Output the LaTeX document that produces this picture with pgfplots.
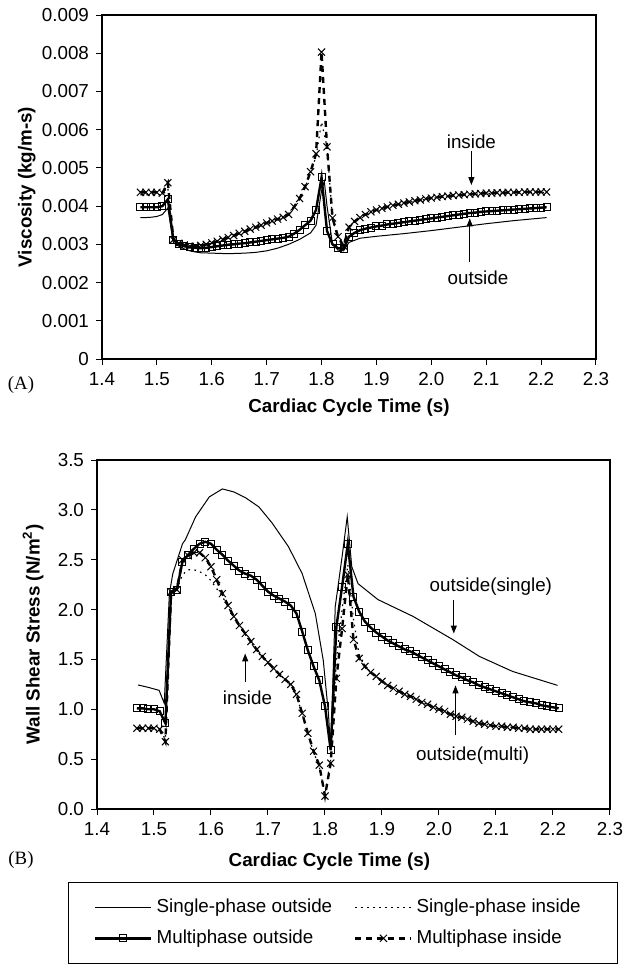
\documentclass[border=0pt]{standalone}
\usepackage{pgfplots}
\pgfplotsset{compat=1.18}
\usepackage{pgfplotstable}
\usepackage{fontspec}
\setmainfont{Liberation Sans}
\newfontfamily\serifpanel{Liberation Serif}
\usetikzlibrary{arrows.meta}

% multiphase outside, multiphase inside, single-phase inside (viscosity)
\pgfplotstableread{
x     mo      mi      si
1.47  .00397  .00436  .00430
1.48  .00397  .00436  .00430
1.49  .00397  .00436  .00430
1.50  .00397  .00436  .00430
1.51  .00400  .00434  .00430
1.52  .00418  .00461  .00445
1.53  .00312  .00312  .00310
1.54  .00300  .00303  .00300
1.55  .00295  .00298  .00295
1.56  .00292  .00295  .00293
1.57  .00291  .00295  .00293
1.58  .00290  .00297  .00295
1.59  .00291  .00300  .00298
1.60  .00293  .00304  .00302
1.61  .00295  .00308  .00306
1.62  .00297  .00313  .00311
1.63  .00299  .00318  .00316
1.64  .00300  .00323  .00321
1.65  .00302  .00329  .00327
1.66  .00303  .00334  .00332
1.67  .00305  .00340  .00338
1.68  .00307  .00345  .00343
1.69  .00309  .00350  .00348
1.70  .00311  .00356  .00354
1.71  .00313  .00361  .00359
1.72  .00315  .00366  .00364
1.73  .00317  .00371  .00369
1.74  .00320  .00378  .00376
1.75  .00328  .00398  .00395
1.76  .00338  .00420  .00418
1.77  .00350  .00451  .00448
1.78  .00362  .00490  .00488
1.79  .00390  .00537  .00530
1.80  .00475  .00803  .00620
1.81  .00335  .00555  .00555
1.82  .00300  .00369  .00365
1.83  .00290  .00320  .00318
1.84  .00288  .00296  .00300
1.85  .00320  .00345  .00343
1.86  .00330  .00360  .00358
1.87  .00337  .00370  .00368
1.88  .00341  .00378  .00377
1.89  .00344  .00385  .00384
1.90  .00347  .00390  .00389
1.91  .00349  .00394  .00393
1.92  .00352  .00398  .00397
1.93  .00354  .00402  .00401
1.94  .00356  .00405  .00404
1.95  .00358  .00408  .00407
1.96  .00360  .00411  .00410
1.97  .00362  .00414  .00413
1.98  .00364  .00416  .00415
1.99  .00366  .00419  .00418
2.00  .00368  .00421  .00420
2.01  .00370  .00423  .00422
2.02  .00372  .00425  .00424
2.03  .00374  .00426  .00425
2.04  .00376  .00428  .00427
2.05  .00378  .00429  .00428
2.06  .00380  .00430  .00429
2.07  .00382  .00431  .00430
2.08  .00383  .00432  .00431
2.09  .00385  .00433  .00432
2.10  .00386  .00434  .00433
2.11  .00387  .00434  .00433
2.12  .00388  .00435  .00434
2.13  .00389  .00435  .00434
2.14  .00390  .00436  .00435
2.15  .00391  .00436  .00435
2.16  .00392  .00436  .00435
2.17  .00393  .00437  .00436
2.18  .00394  .00437  .00436
2.19  .00395  .00437  .00436
2.20  .00396  .00437  .00436
2.21  .00397  .00437  .00436
}\viscmain

% single-phase outside (viscosity)
\pgfplotstableread{
x      y
1.47   .00370
1.48   .00370
1.49   .00371
1.50   .00373
1.51   .00378
1.52   .00395
1.53   .00305
1.54   .00295
1.55   .00288
1.56   .00283
1.57   .00280
1.58   .00278
1.60   .00277
1.62   .00276
1.64   .00276
1.66   .00277
1.68   .00279
1.70   .00283
1.72   .00290
1.74   .00300
1.76   .00313
1.78   .00330
1.79   .00350
1.80   .00440
1.805  .00465
1.81   .00400
1.82   .00300
1.83   .00285
1.84   .00283
1.85   .00305
1.87   .00316
1.90   .00321
1.95   .00328
2.00   .00336
2.05   .00345
2.10   .00354
2.15   .00362
2.21   .00370
}\viscso

% multiphase outside, multiphase inside, single-phase inside (wall shear stress)
\pgfplotstableread{
x     mo    mi     si
1.47  1.01  0.81   0.80
1.48  1.01  0.81   0.80
1.49  1.00  0.81   0.80
1.50  1.00  0.81   0.80
1.51  0.98  0.80   0.79
1.52  0.86  0.675  0.70
1.53  2.18  2.18   2.16
1.54  2.20  2.20   2.20
1.55  2.48  2.50   2.35
1.56  2.55  2.54   2.40
1.57  2.61  2.57   2.40
1.58  2.66  2.57   2.38
1.59  2.68  2.52   2.35
1.60  2.66  2.43   2.29
1.61  2.60  2.30   2.21
1.62  2.55  2.16   2.13
1.63  2.49  2.04   2.03
1.64  2.44  1.93   1.92
1.65  2.39  1.84   1.83
1.66  2.36  1.76   1.75
1.67  2.34  1.68   1.67
1.68  2.30  1.60   1.59
1.69  2.24  1.53   1.52
1.70  2.18  1.47   1.46
1.71  2.14  1.41   1.40
1.72  2.11  1.35   1.34
1.73  2.08  1.30   1.29
1.74  2.04  1.25   1.24
1.75  1.96  1.15   1.14
1.76  1.78  0.96   0.95
1.77  1.59  0.76   0.75
1.78  1.43  0.58   0.57
1.79  1.29  0.44   0.42
1.80  1.03  0.13   0.15
1.81  0.59  0.46   0.50
1.82  1.83  1.31   1.50
1.83  2.23  1.81   2.00
1.84  2.66  2.35   2.45
1.85  2.13  1.70   1.90
1.86  1.98  1.51   1.55
1.87  1.88  1.43   1.44
1.88  1.82  1.37   1.37
1.89  1.77  1.33   1.33
1.90  1.73  1.28   1.28
1.91  1.69  1.24   1.24
1.92  1.66  1.21   1.21
1.93  1.63  1.18   1.18
1.94  1.60  1.15   1.15
1.95  1.58  1.13   1.13
1.96  1.55  1.10   1.10
1.97  1.52  1.07   1.07
1.98  1.49  1.05   1.05
1.99  1.46  1.02   1.02
2.00  1.43  1.00   1.00
2.01  1.40  0.98   0.98
2.02  1.37  0.95   0.95
2.03  1.34  0.93   0.93
2.04  1.32  0.92   0.92
2.05  1.29  0.90   0.90
2.06  1.27  0.88   0.88
2.07  1.24  0.86   0.86
2.08  1.22  0.85   0.85
2.09  1.20  0.84   0.84
2.10  1.18  0.83   0.83
2.11  1.16  0.83   0.83
2.12  1.14  0.82   0.82
2.13  1.12  0.82   0.82
2.14  1.10  0.81   0.81
2.15  1.08  0.81   0.81
2.16  1.07  0.80   0.80
2.17  1.06  0.80   0.80
2.18  1.04  0.80   0.80
2.19  1.03  0.80   0.80
2.20  1.02  0.80   0.80
2.21  1.01  0.80   0.80
}\wssmain

% single-phase outside (wall shear stress)
\pgfplotstableread{
x      y
1.472  1.244
1.490  1.22
1.509  1.19
1.518  1.06
1.527  2.16
1.533  2.36
1.550  2.66
1.555  2.70
1.573  2.93
1.597  3.13
1.620  3.21
1.640  3.18
1.661  3.12
1.684  3.03
1.707  2.87
1.736  2.63
1.760  2.36
1.783  1.96
1.797  1.49
1.806  0.96
1.810  0.59
1.818  2.03
1.830  2.53
1.839  2.93
1.847  2.43
1.858  2.26
1.893  2.10
1.955  1.93
2.024  1.70
2.071  1.53
2.129  1.38
2.208  1.24
}\wssso

\tikzset{
  sglout/.style={black, line width=0.5pt},
  sglin/.style={black, line width=0.6pt, dash pattern=on 0.8pt off 2.2pt},
  mltout/.style={black, line width=1.2pt, mark=square, mark size=1.75pt, mark options={solid, line width=0.5pt}},
  mltin/.style={black, line width=1.2pt, dash pattern=on 3pt off 2.5pt, mark=x, mark size=2.5pt, mark options={solid, line width=0.5pt}},
  note/.style={font=\fontsize{9.4}{11}\selectfont},
  arr/.style={-{Triangle[length=4pt, width=3pt]}, line width=0.5pt},
}
\pgfplotsset{
  panel/.style={
    scale only axis,
    xmin=1.4, xmax=2.3,
    xtick={1.4,1.5,1.6,1.7,1.8,1.9,2.0,2.1,2.2,2.3},
    axis line style={line width=0.6pt},
    tick style={black, line width=0.5pt},
    tick align=outside, major tick length=3pt,
    xtick pos=bottom, ytick pos=left,
    /pgf/number format/assume math mode=true,
    tick label style={font=\fontsize{9.4}{11}\selectfont},
    label style={font=\fontsize{9.4}{11}\selectfont\bfseries},
    xticklabel style={/pgf/number format/fixed, /pgf/number format/fixed zerofill, /pgf/number format/precision=1},
    legend image code/.code={\draw[mark repeat=2, mark phase=2, ##1] plot coordinates {(0pt,0pt) (14pt,0pt) (28pt,0pt)};},
  },
}

\begin{document}
\begin{tikzpicture}
\path[use as bounding box] (0pt,0pt) rectangle (311pt,-482pt);

% (A) viscosity
\begin{axis}[panel,
  at={(51pt,-179.5pt)}, anchor=south west,
  width=247pt, height=172pt,
  ymin=0, ymax=0.009,
  ytick={0,0.001,0.002,0.003,0.004,0.005,0.006,0.007,0.008,0.009},
  scaled y ticks=false,
  yticklabel style={/pgf/number format/fixed, /pgf/number format/precision=3},
  xlabel={Cardiac Cycle Time (s)},
  ylabel={Viscosity (kg/m-s)},
  xlabel style={at={(axis description cs:0.5,0)}, anchor=center, yshift=-24.5pt},
  ylabel style={at={(axis description cs:-0.152,0.5)}, anchor=center},
]
\addplot[sglout] table[x=x, y=y] {\viscso};
\addplot[sglin] table[x=x, y=si] {\viscmain};
\addplot[mltout] table[x=x, y=mo] {\viscmain};
\addplot[mltin] table[x=x, y=mi] {\viscmain};
\node[note] at (axis cs:2.073,0.00568) {inside};
\draw[arr] (axis cs:2.073,0.00543) -- (axis cs:2.073,0.00455);
\node[note] at (axis cs:2.085,0.00212) {outside};
\draw[arr] (axis cs:2.07,0.00255) -- (axis cs:2.07,0.00368);
\end{axis}
\node[font=\serifpanel\fontsize{9.4}{11}\selectfont] at (10.5pt,-192.5pt) {(A)};

% (B) wall shear stress
\begin{axis}[panel,
  at={(48.5pt,-404.5pt)}, anchor=south west,
  width=256.5pt, height=174.5pt,
  ymin=0, ymax=3.5,
  ytick={0,0.5,1,1.5,2,2.5,3,3.5},
  yticklabel style={/pgf/number format/fixed, /pgf/number format/fixed zerofill, /pgf/number format/precision=1},
  xlabel={Cardiac Cycle Time (s)},
  ylabel={Wall Shear Stress (N/m\textsuperscript{2})},
  xlabel style={at={(axis description cs:0.453,0)}, anchor=center, yshift=-26.5pt},
  ylabel style={at={(axis description cs:-0.1245,0.5)}, anchor=center},
  legend columns=2,
  legend cell align=left,
  legend style={draw=none, fill=none, at={(0.4727,-0.3266)}, anchor=center,
    font=\fontsize{9.4}{11}\selectfont, row sep=3pt,
    /tikz/every even column/.append style={column sep=9pt}},
]
\addplot[sglout] table[x=x, y=y] {\wssso};
\addlegendentry{Single-phase outside}
\addplot[sglin] table[x=x, y=si] {\wssmain};
\addlegendentry{Single-phase inside}
\addplot[mltout] table[x=x, y=mo] {\wssmain};
\addlegendentry{Multiphase outside}
\addplot[mltin] table[x=x, y=mi] {\wssmain};
\addlegendentry{Multiphase inside}
\node[note] at (axis cs:1.664,1.12) {inside};
\draw[arr] (axis cs:1.66,1.277) -- (axis cs:1.66,1.56);
\node[note] at (axis cs:2.091,2.23) {outside(single)};
\draw[arr] (axis cs:2.026,2.096) -- (axis cs:2.026,1.76);
\node[note] at (axis cs:2.059,0.54) {outside(multi)};
\draw[arr] (axis cs:2.029,0.74) -- (axis cs:2.029,1.24);
\end{axis}
\node[font=\serifpanel\fontsize{9.4}{11}\selectfont] at (10.5pt,-430pt) {(B)};

\draw[line width=0.5pt] (34pt,-441.3pt) rectangle (308.8pt,-481.7pt);
\end{tikzpicture}
\end{document}
